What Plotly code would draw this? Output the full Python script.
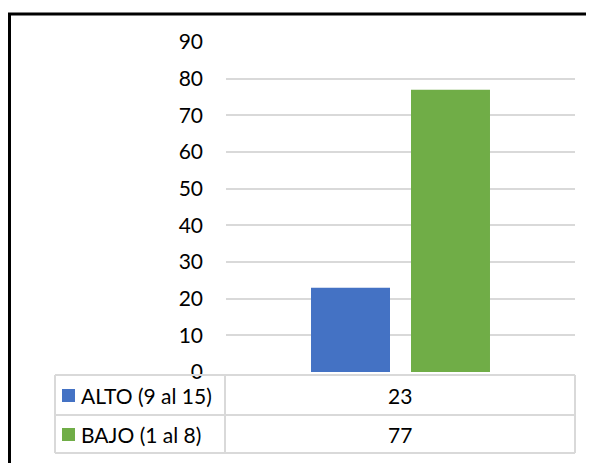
import plotly.graph_objects as go

categories = [""]
series_names = ["ALTO (9 al 15)", "BAJO (1 al 8)"]
series_values = [[23], [77]]
series_colors = ["#4472C4", "#70AD47"]
tick_vals = [0, 10, 20, 30, 40, 50, 60, 70, 80, 90]

OFF = 8  # page body margin
W, H = 594, 463
L, R, T, B = 226 - OFF, 575 - OFF, 42 - OFF, 372 - OFF   # plot area in figure px
FONT = "Lato"
FS = 21

def px_x(px):
    return (px - OFF - L) / (R - L)

def px_y(py):
    return (B - (py - OFF)) / (B - T)

fig = go.Figure()
for name, vals, col in zip(series_names, series_values, series_colors):
    fig.add_trace(go.Bar(x=categories, y=vals, name=name, marker_color=col,
                         marker_line_width=0, showlegend=False))

shapes = []
# outer black frame
shapes.append(dict(type="rect", xref="paper", yref="paper",
                   x0=px_x(9.5), x1=px_x(640), y0=px_y(14), y1=px_y(500),
                   line=dict(color="black", width=3), fillcolor="rgba(0,0,0,0)", layer="below"))
# data table grid
grid = "#d9d9d9"
tx0, tx1, tmid = 55, 575, 225
ty = [375, 415, 453]
for y in ty:
    shapes.append(dict(type="line", xref="paper", yref="paper",
                       x0=px_x(tx0), x1=px_x(tx1), y0=px_y(y), y1=px_y(y),
                       line=dict(color=grid, width=2)))
for x in [tx0, tmid, tx1]:
    shapes.append(dict(type="line", xref="paper", yref="paper",
                       x0=px_x(x), x1=px_x(x), y0=px_y(ty[0]), y1=px_y(ty[-1]),
                       line=dict(color=grid, width=2)))

annotations = []
for i, (name, vals, col) in enumerate(zip(series_names, series_values, series_colors)):
    yc = (ty[i] + ty[i + 1]) / 2
    shapes.append(dict(type="rect", xref="paper", yref="paper",
                       x0=px_x(62), x1=px_x(75), y0=px_y(yc - 6), y1=px_y(yc + 7),
                       line=dict(width=0), fillcolor=col))
    annotations.append(dict(text=name, xref="paper", yref="paper",
                            x=px_x(79), y=px_y(yc), xanchor="left", yanchor="middle",
                            showarrow=False, font=dict(family=FONT, size=FS, color="black")))
    annotations.append(dict(text=str(vals[0]), xref="paper", yref="paper",
                            x=px_x((tmid + tx1) / 2), y=px_y(yc), xanchor="center", yanchor="middle",
                            showarrow=False, font=dict(family=FONT, size=FS, color="black")))

fig.update_layout(
    width=W, height=H,
    margin=dict(l=L, r=W - R, t=T, b=H - B),
    paper_bgcolor="white", plot_bgcolor="white",
    barmode="group", bargap=0.427, bargroupgap=0.21,
    shapes=shapes, annotations=annotations,
    font=dict(family=FONT, size=FS, color="black"),
)
fig.update_xaxes(showticklabels=False, showgrid=False, zeroline=False, showline=False)
fig.update_yaxes(range=[0, 90], tickvals=tick_vals, showgrid=True, gridcolor=grid,
                 gridwidth=1.5, zeroline=False, showline=False,
                 ticklabelstandoff=22, tickfont=dict(family=FONT, size=FS, color="black"))

fig.write_html("out.html")
